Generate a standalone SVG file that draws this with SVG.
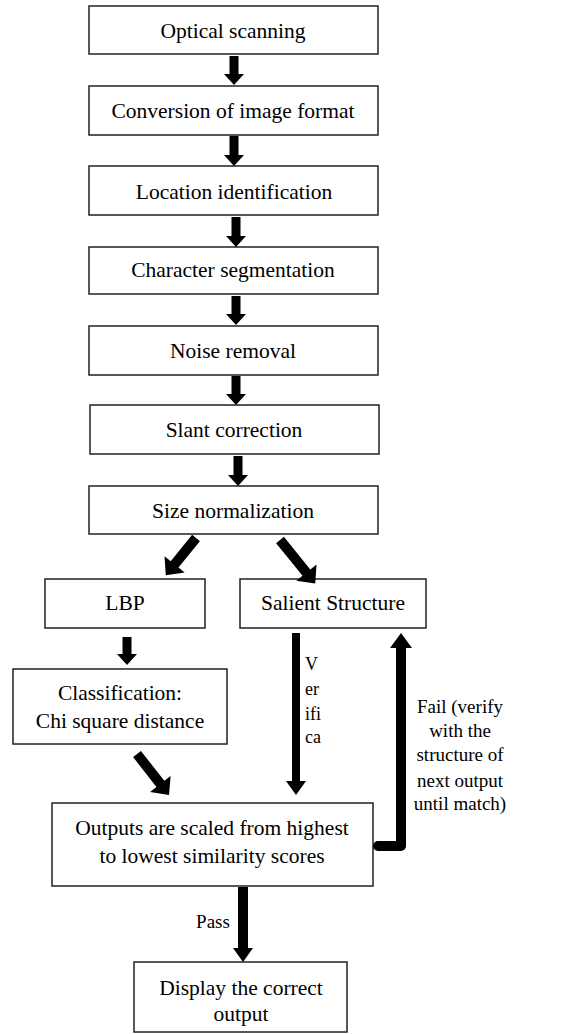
<svg xmlns="http://www.w3.org/2000/svg" width="584" height="1034" viewBox="0 0 584 1034">
<style>
.box{fill:#fff;stroke:#222;stroke-width:1.5}
text{font-family:'Liberation Serif','Tinos','DejaVu Serif',serif;fill:#000}
.t{font-size:21.5px;text-anchor:middle}
.s{font-size:19px;text-anchor:middle}
.v{font-size:18px}
.a{fill:#000}
</style>
<rect width="584" height="1034" fill="#fff"/>
<g id="n1"><rect class="box" x="89" y="6" width="289" height="48"/><text class="t" x="233" y="38">Optical scanning</text></g>
<g id="n2"><rect class="box" x="89" y="86" width="289" height="49"/><text class="t" x="233" y="118">Conversion of image format</text></g>
<g id="n3"><rect class="box" x="89" y="166" width="289" height="49"/><text class="t" x="234" y="199">Location identification</text></g>
<g id="n4"><rect class="box" x="89" y="247" width="289" height="47"/><text class="t" x="233" y="277">Character segmentation</text></g>
<g id="n5"><rect class="box" x="89" y="326" width="289" height="49"/><text class="t" x="233" y="358">Noise removal</text></g>
<g id="n6"><rect class="box" x="90" y="405" width="289" height="49"/><text class="t" x="234" y="437">Slant correction</text></g>
<g id="n7"><rect class="box" x="89" y="486" width="289" height="48"/><text class="t" x="233" y="518">Size normalization</text></g>
<g id="n8"><rect class="box" x="45" y="579" width="160" height="49"/><text class="t" x="125" y="610">LBP</text></g>
<g id="n9"><rect class="box" x="240" y="579" width="186" height="49"/><text class="t" x="333" y="610">Salient Structure</text></g>
<g id="n10"><rect class="box" x="13" y="669" width="214" height="75"/><text class="t" x="120" y="700">Classification:</text><text class="t" x="120" y="728">Chi square distance</text></g>
<g id="n11"><rect class="box" x="52" y="803" width="321" height="83"/><text class="t" x="212" y="835">Outputs are scaled from highest</text><text class="t" x="212" y="863">to lowest similarity scores</text></g>
<g id="n12"><rect class="box" x="134" y="962" width="213" height="70"/><text class="t" x="241" y="995">Display the correct</text><text class="t" x="241" y="1021">output</text></g>
<g id="connectors">
<polygon class="a" points="229.5,56 238.5,56 238.5,74 244,74 234,85 224,74 229.5,74"/>
<polygon class="a" points="229.5,136 238.5,136 238.5,155 244,155 234,166 224,155 229.5,155"/>
<polygon class="a" points="231.5,217 240.5,217 240.5,236 246,236 236,247 226,236 231.5,236"/>
<polygon class="a" points="231.5,296 240.5,296 240.5,314 246,314 236,325 226,314 231.5,314"/>
<polygon class="a" points="231.5,376 240.5,376 240.5,394 246,394 236,405 226,394 231.5,394"/>
<polygon class="a" points="233.5,456 242.5,456 242.5,475 248,475 238,486 228,475 233.5,475"/>
<polygon class="a" points="122.5,637 131.5,637 131.5,654 137,654 127,665 117,654 122.5,654"/>
<g transform="translate(196,538) rotate(39)"><polygon class="a" points="-5,0 5,0 5,34 13,34 0,48 -13,34 -5,34"/></g>
<g transform="translate(280,540) rotate(-39)"><polygon class="a" points="-5,0 5,0 5,42 13,42 0,56 -13,42 -5,42"/></g>
<g transform="translate(137,754) rotate(-38)"><polygon class="a" points="-5,0 5,0 5,38 13,38 0,52 -13,38 -5,38"/></g>
<polygon class="a" points="292,633 300,633 300,781 306,781 296,795 286,781 292,781"/>
<polygon class="a" points="238,887 248,887 248,948 253,948 243,962 233,948 238,948"/>
<path d="M378,846 H401 V646" fill="none" stroke="#000" stroke-width="10" stroke-linejoin="round" stroke-linecap="round"/>
<polygon class="a" points="390,648 412,648 401,633"/>
<text class="v" x="305" y="670">V</text>
<text class="v" x="305" y="695">er</text>
<text class="v" x="305" y="720">ifi</text>
<text class="v" x="305" y="743">ca</text>
<text class="s" x="460" y="713">Fail (verify</text>
<text class="s" x="460" y="737">with the</text>
<text class="s" x="460" y="761">structure of</text>
<text class="s" x="460" y="787">next output</text>
<text class="s" x="460" y="810">until match)</text>
<text class="s" x="213" y="928">Pass</text>
</g>
</svg>
